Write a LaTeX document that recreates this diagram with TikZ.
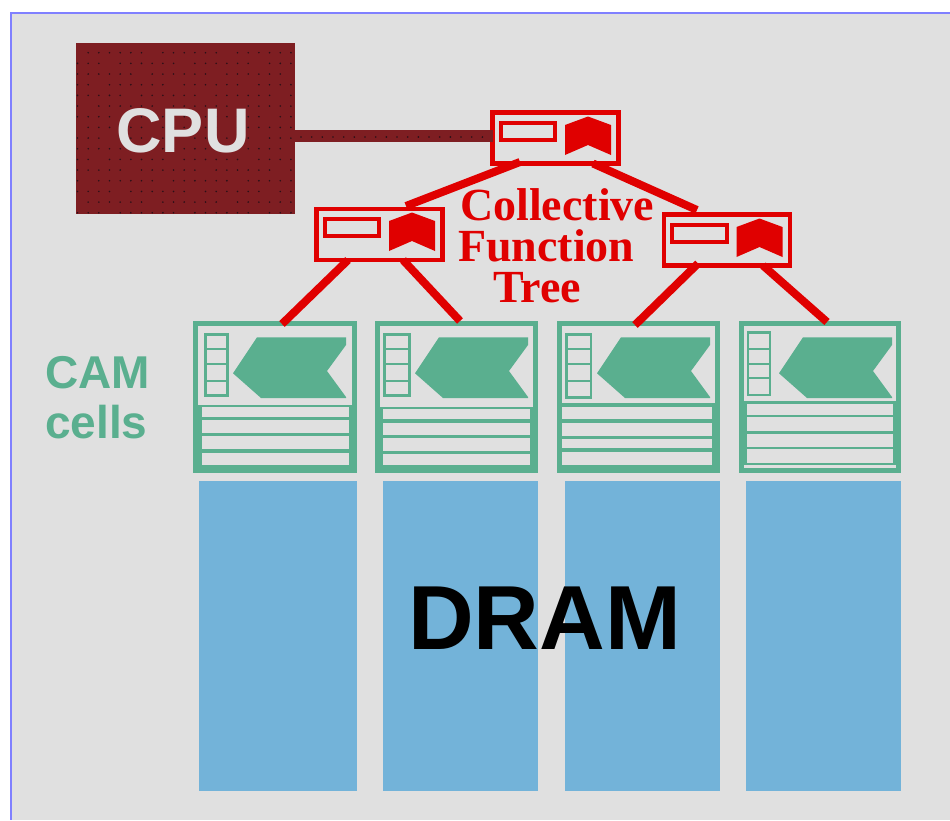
\documentclass[tikz,border=0pt]{standalone}
\usepackage{fontspec}
\setmainfont{Liberation Sans}
\newfontfamily\serifbold[BoldFont=Liberation Serif Bold]{Liberation Serif}
\definecolor{bgc}{HTML}{E0E0E0}
\definecolor{framec}{HTML}{8080FF}
\definecolor{cpuc}{HTML}{7E1E22}
\definecolor{dotc}{HTML}{2A1018}
\definecolor{treec}{HTML}{E00000}
\definecolor{camc}{HTML}{5AAF8F}
\definecolor{dramc}{HTML}{73B3D9}
\tikzset{
  x=1pt,y=-1pt,
  box/.style={rectangle,inner sep=0pt,outer sep=0pt,anchor=north west},
  cpubox/.style={box,fill=cpuc,minimum width=219pt,minimum height=171pt},
  treebox/.style={box,draw=treec,line width=4.5pt,fill=bgc,minimum width=126pt,minimum height=51pt},
  cambox/.style={box,fill=camc,minimum height=152pt},
  drambox/.style={box,fill=dramc,minimum height=310pt},
  treeline/.style={draw=treec,line width=8pt},
  cpuline/.style={draw=cpuc,line width=12pt},
  camtext/.style={anchor=base west,inner sep=0pt,text=camc,font=\fontsize{46}{46}\selectfont\bfseries},
}
% tree cell details: origin at outer top-left
\newcommand{\treedetail}[2]{%
  \begin{scope}[shift={(#1,#2)}]
    \draw[treec,line width=4pt] (10.5,12.5) rectangle (65,30);
    \fill[treec] (75,15) -- (98,6.5) -- (121,15) -- (121,45) -- (98,35) -- (75,45) -- cycle;
  \end{scope}}
% #1 x origin, #2 top-section right, #3 top-section bottom, #4 reg left, #5 reg right,
% #6 reg top, #7 reg bottom, #8 reg rules, #9 row gaps
\newcommand{\camdetail}[9]{%
  \begin{scope}[xshift=#1]
    \fill[bgc] (5.2,326) rectangle (#2,#3);
    \draw[camc,line width=2.4pt] (#4,#6) rectangle (#5,#7);
    \foreach \ry in {#8} \draw[camc,line width=2.2pt] (#4,\ry) -- (#5,\ry);
    \fill[camc] (64,337.3) -- (153,337.3) -- (153,345) -- (134,371) -- (153,397) -- (153,398) -- (68,398) -- (40,373.3) -- cycle;
    \foreach \xa/\xb/\ya/\yb in {#9} \fill[bgc] (\xa,\ya) rectangle (\xb,\yb);
  \end{scope}}
\begin{document}
\begin{tikzpicture}
\useasboundingbox (0,0) rectangle (950,820);
\fill[white] (0,0) rectangle (950,820);
\fill[bgc] (10,12) rectangle (950,820);
\draw[framec,line width=2pt] (950,12.5) -- (10.5,12.5) -- (10.5,820);
% DRAM
\node[drambox,minimum width=158pt] (d1) at (199,481) {};
\node[drambox,minimum width=155pt] (d2) at (383,481) {};
\node[drambox,minimum width=155pt] (d3) at (565,481) {};
\node[drambox,minimum width=155pt] (d4) at (746,481) {};
\node[anchor=base west,inner sep=0pt,font=\fontsize{91}{91}\selectfont\bfseries] (dram) at (408,649) {DRAM};
% CAM
\node[cambox,minimum width=164pt] (c1) at (193,321) {};
\node[cambox,minimum width=163pt] (c2) at (375,321) {};
\node[cambox,minimum width=163pt] (c3) at (557,321) {};
\node[cambox,minimum width=162pt] (c4) at (739,321) {};
\camdetail{193}{158.7}{405}{12.5}{34.5}{334.5}{395.5}{349,364,381}%
  {8.7/155.7/407/417, 8.7/155.7/420/433, 8.7/155.7/436/449, 8.7/155.7/453/465}
\camdetail{375}{158}{406.7}{9.5}{34.5}{334.5}{395.5}{349,364,381}%
  {8.3/155/409.3/419.3, 8.3/155/422.7/435, 8.3/155/438.3/451, 8.3/155/454.3/465}
\camdetail{557}{158}{403.3}{9.5}{34}{334.5}{397.5}{349,364,381}%
  {5.3/155/406.7/419.3, 5.3/155/422.7/436, 5.3/155/439/448.3, 5.3/155/452.3/465}
\camdetail{739}{157}{400.7}{8.7}{31}{332.5}{395}{349,364,378}%
  {7.7/154.3/404.3/415, 7.7/154.3/417.3/430.7, 7.7/154.3/434/446.7, 7.7/154.3/449.3/462.7, 5/157/465/467.7}
\node[camtext] (camlab) at (45,388) {CAM};
\node[camtext] (celllab) at (45,438) {cells};
% CPU
\node[cpubox] (cpu) at (76,43) {};
\node[treebox] (t0) at (492.5,112.5) {};
\node[treebox] (t1) at (316.5,209) {};
\node[treebox] (t2) at (664,214.5) {};
\coordinate (cpuend) at ([yshift=2pt]t0.west);
\draw[cpuline] (cpu.east |- cpuend) -- (cpuend);
\foreach \i in {0,...,20} \foreach \j in {0,...,15} {
  \pgfmathtruncatemacro{\skipit}{mod(3*\i+5*\j,7)==0 ? 1 : 0}
  \ifnum\skipit=0 \fill[dotc] (77.5+10.67*\i,52.7+10.67*\j) circle (0.9);\fi
}
\foreach \i in {0,...,17} \fill[dotc] (301+10.67*\i,137) circle (0.9);
\node[anchor=base,inner sep=0pt,text=bgc,font=\fontsize{63}{63}\selectfont\bfseries] (cpulab) at (183,152) {CPU};
% Connectors
\draw[treeline] ([shift={(27.5pt,1.5pt)}]t0.south west) -- ([shift={(89.5pt,3pt)}]t1.north west);
\draw[treeline] ([shift={(-25.5pt,0pt)}]t0.south east) -- ([shift={(33pt,4.5pt)}]t2.north west);
\draw[treeline] ([xshift=31.5pt]t1.south west) -- ([shift={(89pt,-3pt)}]c1.north west);
\draw[treeline] ([xshift=86.5pt]t1.south west) -- ([xshift=85pt]c2.north west);
\draw[treeline] ([shift={(34pt,2pt)}]t2.south west) -- ([shift={(78pt,-4pt)}]c3.north west);
\draw[treeline] ([xshift=99pt]t2.south west) -- ([shift={(88pt,-1pt)}]c4.north west);
\treedetail{490}{110}
\treedetail{314}{206}
\treedetail{661.5}{212}
% text
\node[anchor=north west,inner sep=0pt,align=left,text=treec,font=\fontsize{46}{41}\selectfont\serifbold\bfseries] (lab) at (458,188.5)
  {\hspace*{2pt}Collective\\Function\\\hspace*{35pt}Tree};
\end{tikzpicture}
\end{document}
